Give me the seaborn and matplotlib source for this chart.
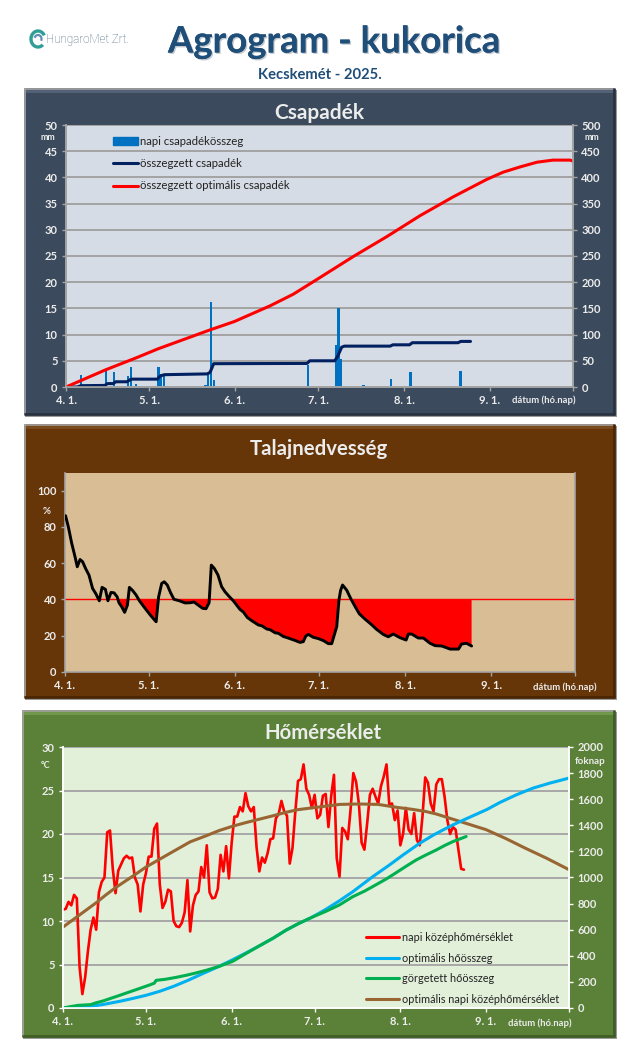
import numpy as np
import matplotlib
matplotlib.use("Agg")
import matplotlib.pyplot as plt
import matplotlib.patheffects as pe
from matplotlib.patches import Rectangle, Arc
from matplotlib.lines import Line2D
import seaborn as sns

sns.set_theme(style="white")
plt.rcParams['font.family'] = ['Lato', 'Open Sans', 'DejaVu Sans']

# ---------- data (days since 1 April) ----------
month_days = [0, 30, 61, 91, 122, 153]
month_labels = ["4. 1.", "5. 1.", "6. 1.", "7. 1.", "8. 1.", "9. 1."]
XMAX = 183

rain_days = [5.35, 14.35, 17.35, 22.35, 23.35, 25.35, 33.35, 34.35, 35.35, 36.35, 42.35, 48.35, 50.35, 51.35,
             52.35, 53.35, 63.35, 87.35, 97.35, 98.35, 99.35, 107.35, 117.35, 124.35, 127.35, 138.35, 142.35]
rain_mm = [2.2, 3.3, 2.8, 2.1, 3.8, 0.5, 3.8, 2.4, 2.4, 0.15, 0.15, 0.15, 0.3, 2.4,
           16.3, 1.4, 0.15, 4.2, 8.0, 15.1, 5.4, 0.45, 1.5, 2.9, 0.15, 0.15, 3.1]

cum_days = [0, 4, 5.4, 14, 15, 17, 18, 22, 23.5, 33, 34, 35.5, 51, 52, 53.3, 87, 88, 97, 98, 99.5, 100.5, 117, 118,
            124, 125, 141.5, 142.5, 146]
cum_mm = [0, 0, 2.5, 3, 6.5, 6.5, 10, 10, 15, 15, 21, 23.5, 25, 28, 44.5, 45, 50, 50, 58, 76, 78, 78, 80.5,
          80.5, 84.5, 84.5, 87, 87]

opt_rain_days = [0, 14.4, 25.5, 33.3, 52, 60.8, 73.7, 82, 91.7, 103.7, 115.8, 127.8, 139.8, 151.8, 157.8, 163.9,
                 170, 175.8, 182, 183]
opt_rain_mm = [0, 33, 56, 73, 109, 125, 155, 177, 209, 249, 287, 327, 363, 396, 410, 420,
               429, 433, 433, 431]

soil_days = [0.2, 1.2, 2.4, 3.6, 4.4, 5.4, 6.3, 7.4, 8.6, 9.9, 11.1, 12.3, 13.3, 14.5, 15.4, 16.5, 17.6, 18.7, 19.4,
             20.3, 21.4, 22.4, 23.1, 24.3, 25.5, 26.7, 28.1, 29.5, 31.1, 32.7, 33.6, 34.7, 35.6, 36.7, 37.9, 39.1,
             41, 43.1, 44.9, 46.3, 47.8, 49.4, 50.6, 51.7, 52.5, 53.6, 54.9, 56.2, 57.4, 59, 60.4, 61.6, 62.8, 64,
             65.4, 67, 69.4, 70.6, 72.4, 73.6, 75.4, 76.6, 78.3, 80.1, 82.5, 84.3, 85.5, 86.4, 87.3, 89.1, 90.9,
             92.7, 94.5, 95.7, 97.5, 98.3, 98.9, 99.6, 101.1, 102.5, 104.1, 105.6, 107.7, 110, 111.8, 114.2, 116,
             117.8, 120.2, 122.4, 123.2, 124.4, 126.8, 128.6, 131, 132.8, 135.2, 138.2, 141.2, 142.3, 144.1, 145.9]
soil_pct = [86.2, 80, 71, 63.5, 58, 62, 60.8, 57, 53.4, 46, 43, 39.2, 46.6, 45.5, 39.2, 43.8, 43.6, 41.4, 38,
            36, 32.8, 36.8, 46.6, 44.8, 42.4, 39.2, 36.3, 33.5, 30.4, 27.6, 41.4, 48.8, 49.7, 47.9, 43.6, 40,
            39.2, 38, 38.1, 38.5, 36.8, 35, 34.8, 38.1, 58.9, 57, 53.4, 47, 44.2, 41.4, 39.2, 36.8, 34.4, 33,
            30, 28.2, 25.8, 25.4, 23.6, 23.2, 21.5, 21.2, 19.5, 18.6, 17.3, 16.2, 16.6, 19.7, 20.6, 19, 18.3,
            17.2, 15.5, 15.5, 24.9, 39.6, 45, 47.9, 45, 40.5, 36, 32, 29, 26, 23.4, 20.6, 19.3,
            20.8, 18.8, 17.5, 20.8, 20.8, 18.6, 18.6, 15.7, 14.4, 14.2, 12.5, 12.5, 15.3, 15.7, 14.2]
soil_limit = 40

temp_c = [11.3, 11.4, 12.2, 11.8, 13.0, 12.6, 4.7, 1.6, 3.5, 6.5, 9.0, 10.4, 9.0, 13.3, 14.5, 15.0, 20.2, 20.4, 16.0,
          13.2, 15.8, 16.5, 17.2, 17.5, 17.2, 17.3, 15.0, 14.2, 11.1, 14.2, 15.5, 17.4, 17.4, 20.6, 21.2, 14.2, 11.5,
          12.2, 13.6, 13.4, 10.0, 9.4, 9.3, 9.8, 11.0, 14.7, 8.8, 11.8, 13.0, 13.4, 16.2, 15.0, 18.7, 13.3, 12.6,
          12.7, 13.7, 17.6, 15.7, 18.6, 14.9, 19.0, 22.0, 22.0, 23.1, 22.6, 24.7, 23.2, 22.6, 23.1, 18.5, 15.7, 17.3,
          16.7, 17.8, 19.4, 19.5, 21.8, 22.3, 23.8, 22.6, 22.1, 16.6, 18.4, 22.5, 26.1, 26.3, 28.0, 25.2, 24.5, 23.0,
          24.5, 21.8, 22.2, 24.4, 24.6, 20.8, 24.4, 26.8, 17.2, 15.1, 20.7, 20.3, 19.4, 22.8, 27.0, 26.0, 23.5, 19.0,
          18.2, 21.2, 24.5, 25.2, 24.3, 23.5, 25.5, 26.6, 28.0, 23.4, 23.5, 21.6, 22.7, 18.7, 20.0, 23.0, 20.5, 20.0,
          22.4, 19.3, 18.7, 22.0, 26.5, 25.9, 23.5, 22.6, 25.7, 26.3, 26.3, 24.3, 21.6, 20.0, 20.8, 20.5, 18.2, 16.0,
          15.9]
temp_days = list(range(len(temp_c)))

opt_sum_days = [0, 5, 8.4, 14, 20.5, 25, 30, 35, 40, 45, 50.6, 56, 61, 66, 71, 76, 80.7, 85, 90, 95, 100, 104.8,
                112, 118, 123, 129, 134, 137.5, 141, 145, 153.5, 158, 164, 170, 176, 180, 183]
opt_sum = [0, 0, 8, 25, 51, 72, 97, 128, 166, 210, 264, 315, 366, 420, 476, 535, 597, 645, 695, 755, 822, 891,
           1006, 1095, 1173, 1262, 1326, 1365, 1403, 1442, 1523, 1575, 1634, 1685, 1723, 1745, 1762]

roll_sum_days = [0, 2.5, 5.4, 10, 12, 14.5, 17, 20.5, 25, 31, 33, 33.7, 37, 41, 44.6, 48, 51.8, 56.6, 61.4, 66, 71,
                 76, 80.7, 85, 90, 95, 100, 104.8, 109, 113, 117, 120.5, 124, 127.7, 131, 135, 138, 141, 145.8]
roll_sum = [0, 10, 20, 26, 40, 54, 72, 97, 130, 174, 190, 212, 220, 235, 251, 268, 289, 320, 358, 415, 476,
            535, 597, 645, 695, 740, 790, 853, 895, 942, 990, 1037, 1085, 1134, 1170, 1211, 1245, 1275, 1314]

opt_temp_days = [0, 3, 6, 9, 12, 15.5, 19.3, 25, 30, 35.5, 41, 46, 51.8, 56.5, 61.4, 66, 71, 76, 80.7, 85, 90, 95,
                 100, 107, 114, 121, 126, 131, 135, 139, 144, 148, 153, 160, 167, 175, 183]
opt_temp = [9.3, 10.0, 10.7, 11.4, 12.1, 13.0, 13.9, 15.1, 16.2, 17.2, 18.2, 19.1, 19.8, 20.4, 20.9, 21.3, 21.7,
            22.1, 22.5, 22.8, 23.0, 23.2, 23.4, 23.45, 23.4, 23.05, 22.85, 22.6, 22.3, 21.9, 21.4, 21.0, 20.5,
            19.5, 18.4, 17.2, 15.9]

# ---------- layout helpers ----------
W, H = 640, 1059
fig = plt.figure(figsize=(W / 100, H / 100), dpi=100, facecolor="white")
bg = fig.add_axes([0, 0, 1, 1], zorder=0)
bg.set_xlim(0, W); bg.set_ylim(H, 0); bg.axis("off")
TXT = "#ececec"


def panel(x0, y0, x1, y1, color, light, dark):
    bg.add_patch(Rectangle((x0 + 1, y0 + 2), x1 - x0 + 1, y1 - y0, color="#9a9a9a", lw=0))
    bg.add_patch(Rectangle((x0, y0), x1 - x0, y1 - y0, color=color, lw=0))
    bg.plot([x0, x1], [y0 + 1, y0 + 1], color="#a5a5a5", lw=1.2, solid_capstyle="butt")
    bg.plot([x0 + 1, x1 - 1], [y0 + 3, y0 + 3], color=light, lw=2, solid_capstyle="butt")
    bg.plot([x0 + 1, x0 + 1], [y0, y1], color="#a5a5a5", lw=1.2, solid_capstyle="butt")
    bg.plot([x1 - 1.5, x1 - 1.5], [y0, y1], color=dark, lw=2, solid_capstyle="butt")
    bg.plot([x0, x1], [y1 - 1.5, y1 - 1.5], color=dark, lw=2, solid_capstyle="butt")


def plot_axes(x0, y0, x1, y1, face):
    ax = fig.add_axes([x0 / W, 1 - y1 / H, (x1 - x0) / W, (y1 - y0) / H], zorder=2, facecolor=face)
    return ax


def style_x(ax, color):
    ax.set_xlim(0, XMAX)
    ax.set_xticks(month_days + [XMAX])
    ax.set_xticklabels(month_labels + [""])
    ax.set_xlabel(""); ax.set_ylabel("")
    ax.tick_params(axis="x", length=3, width=1, color=color, labelcolor=TXT, labelsize=8, pad=3, bottom=True)
    for lab in ax.get_xticklabels():
        lab.set_fontweight("bold")


def style_y(ax, color, ticks, side="left", fs=8):
    ax.set_yticks(ticks)
    ax.tick_params(axis="y", length=3, width=1, color=color, labelcolor=TXT, labelsize=fs, pad=3,
                   left=side == "left", right=side == "right",
                   labelleft=side == "left", labelright=side == "right")
    for lab in ax.get_yticklabels():
        lab.set_fontweight("bold")
    ax.set_xlabel(""); ax.set_ylabel("")


def note(x, y, s, size=7.5, color=TXT, weight="bold", ha="center"):
    bg.text(x, y, s, fontsize=size, color=color, fontweight=weight, ha=ha, va="center")


# ---------- header ----------
shadow = [pe.withSimplePatchShadow(offset=(1, -1), shadow_rgbFace="#9aa4ae", alpha=0.6), pe.Normal()]
bg.text(334, 42, "Agrogram - kukorica", fontsize=26.3, fontweight="bold", color="#1f4e79",
        ha="center", va="center", path_effects=shadow)
bg.text(320, 75, "Kecskemét - 2025.", fontsize=10.6, fontweight="bold", color="#1f4e79", ha="center", va="center")
bg.add_patch(Arc((38, 39), 14, 16, theta1=50, theta2=330, color="#2f9e97", lw=2.4))
bg.add_patch(Arc((38, 39), 7, 8, theta1=200, theta2=30, color="#5f8fb5", lw=1.6))
bg.text(46, 39, "HungaroMet Zrt.", fontsize=8.4, color="#44667f", ha="left", va="center",
        family=["Roboto", "DejaVu Sans"], fontweight="light")

# ---------- panel 1: precipitation ----------
panel(24, 88, 615, 415, "#3b4a5c", "#55637a", "#28323f")
note(319, 113, "Csapadék", size=15)
GRID1 = "#a3a3a3"
ax1 = plot_axes(66, 125, 573, 387, "#d6dce5")
ax1.set_axisbelow(True)
ax1.yaxis.grid(True, color=GRID1, lw=1.4)
ax1.xaxis.grid(False)
sns.barplot(x=rain_days, y=rain_mm, native_scale=True, color="#0070c0", saturation=1, width=0.85, linewidth=0, ax=ax1)
ax1.set_ylim(0, 50)
style_x(ax1, GRID1)
style_y(ax1, GRID1, np.arange(0, 51, 5))
ax1r = ax1.twinx()
sns.lineplot(x=cum_days, y=cum_mm, color="#002060", lw=2.2, ax=ax1r, sort=False, errorbar=None)
sns.lineplot(x=opt_rain_days, y=opt_rain_mm, color="#ff0000", lw=2.2, ax=ax1r, sort=False, errorbar=None)
ax1r.set_ylim(0, 500)
ax1r.set_xlim(0, XMAX)
style_y(ax1r, GRID1, np.arange(0, 501, 50), side="right")
for ax in (ax1, ax1r):
    for s, sp in ax.spines.items():
        sp.set_visible(s in ("left", "bottom", "right"))
        sp.set_color(GRID1); sp.set_linewidth(1.2)
ax1.legend(handles=[Rectangle((0, 0), 1, 1, color="#0070c0"),
                    Line2D([], [], color="#002060", lw=2.2),
                    Line2D([], [], color="#ff0000", lw=2.2)],
           labels=["napi csapadékösszeg", "összegzett csapadék", "összegzett optimális csapadék"],
           loc="upper left", bbox_to_anchor=(0.0927, 0.958), frameon=False, fontsize=8.2, labelcolor="#222222",
           handlelength=2.2, handleheight=0.6, handletextpad=0.2, labelspacing=0.98, borderpad=0, borderaxespad=0)
ax1r.set_zorder(ax1.get_zorder() + 1)
note(48, 137, "mm", size=6.5)
note(592, 137, "mm", size=6.5)
note(544, 400, "dátum (hó.nap)", size=6.8)

# ---------- panel 2: soil moisture ----------
panel(24, 424, 615, 698, "#663508", "#7d4c1e", "#4a2604")
note(319, 449, "Talajnedvesség", size=14.7)
GRID2 = "#a3a3a3"
ax2 = plot_axes(65, 473, 575, 671.7, "#d9bd94")
ax2.grid(False)
ax2.axhline(soil_limit, color="#ff0000", lw=1, zorder=2)
soil_d = np.array(soil_days)
soil_v = np.array(soil_pct)
ax2.fill_between(soil_d, soil_v, soil_limit, where=soil_v < soil_limit, interpolate=True, color="#ff0000", lw=0, zorder=2)
sns.lineplot(x=soil_days, y=soil_pct, color="black", lw=2.1, ax=ax2, sort=False, errorbar=None, zorder=3)
ax2.set_ylim(0, 109.8)
style_x(ax2, GRID2)
style_y(ax2, GRID2, np.arange(0, 101, 20))
for s, sp in ax2.spines.items():
    sp.set_visible(s in ("left", "bottom", "right"))
    sp.set_color(GRID2); sp.set_linewidth(1.2)
note(47, 511, "%", size=7)
note(565, 687, "dátum (hó.nap)", size=6.8)

# ---------- panel 3: temperature ----------
panel(22, 710, 615, 1037, "#5a8137", "#73994f", "#3f5e24")
note(323, 733, "Hőmérséklet", size=14.7)
ax3 = plot_axes(63, 747, 569, 1008, "#e2efd9")
ax3.set_axisbelow(True)
ax3.yaxis.grid(True, color="#a8a8a8", lw=1.4)
ax3.xaxis.grid(False)
sns.lineplot(x=temp_days, y=temp_c, color="#ff0000", lw=1.9, ax=ax3, sort=False, errorbar=None, zorder=3)
sns.lineplot(x=opt_temp_days, y=opt_temp, color="#996633", lw=2.2, ax=ax3, sort=False, errorbar=None, zorder=4)
ax3.set_ylim(0, 30)
style_x(ax3, "white")
style_y(ax3, "white", np.arange(0, 31, 5))
ax3r = ax3.twinx()
sns.lineplot(x=opt_sum_days, y=opt_sum, color="#00b0f0", lw=2.2, ax=ax3r, sort=False, errorbar=None)
sns.lineplot(x=roll_sum_days, y=roll_sum, color="#00b050", lw=2.2, ax=ax3r, sort=False, errorbar=None)
ax3r.set_ylim(0, 2000)
ax3r.set_xlim(0, XMAX)
style_y(ax3r, "white", np.arange(0, 2001, 200), side="right")
for ax in (ax3, ax3r):
    for s, sp in ax.spines.items():
        sp.set_visible(s in ("left", "bottom", "right"))
        sp.set_color("white"); sp.set_linewidth(1.2)
ax3r.legend(handles=[Line2D([], [], color="#ff0000", lw=2.2),
                     Line2D([], [], color="#00b0f0", lw=2.2),
                     Line2D([], [], color="#00b050", lw=2.2),
                     Line2D([], [], color="#996633", lw=2.2)],
            labels=["napi középhőmérséklet", "optimális hőösszeg", "görgetett hőösszeg",
                    "optimális napi középhőmérséklet"],
            loc="lower left", bbox_to_anchor=(0.598, 0.013), frameon=False, fontsize=7.8, labelcolor="#222222",
            handlelength=3.1, handletextpad=0.25, labelspacing=0.88, borderpad=0, borderaxespad=0)
note(46, 765, "°C", size=6.5)
note(590, 762, "foknap", size=7)
note(540, 1023, "dátum (hó.nap)", size=6.8)

fig.savefig("out.png", dpi=100, facecolor="white")
